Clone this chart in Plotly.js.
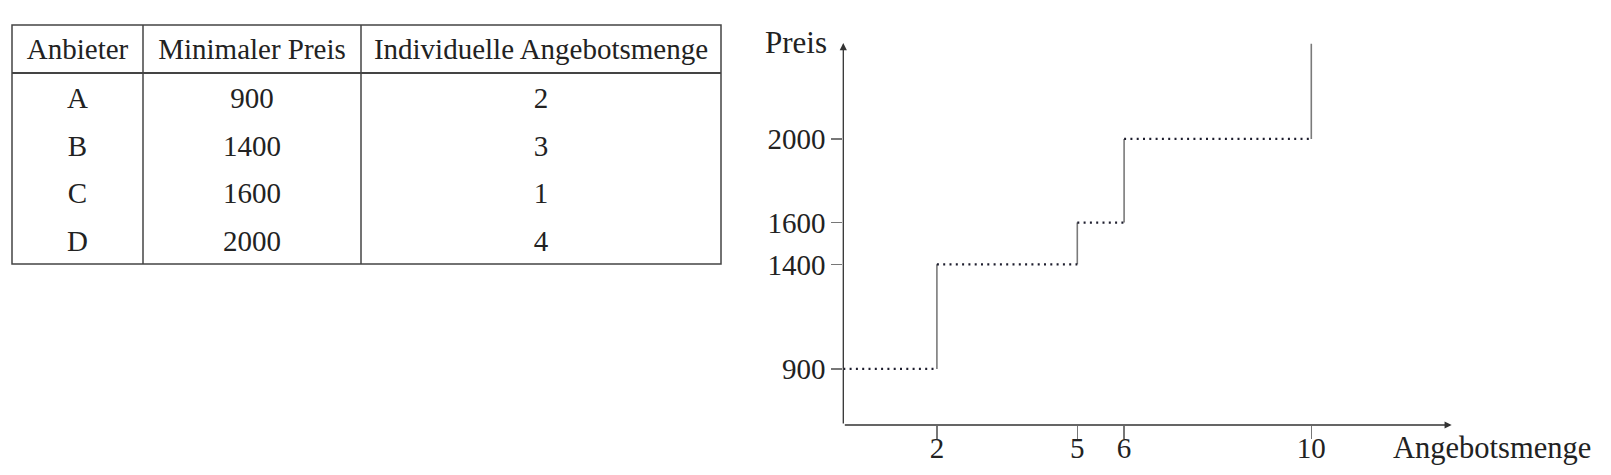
<!DOCTYPE html>
<html><head><meta charset="utf-8">
<script src="https://cdn.plot.ly/plotly-3.0.1.min.js"></script>
<style>html,body{margin:0;padding:0;background:#fff}#chart{width:1611px;height:475px}</style>
</head><body><div id="chart"></div>
<script>
// ---- data ----
const tableHeaders = ['Anbieter', 'Minimaler Preis', 'Individuelle Angebotsmenge'];
const suppliers = ['A', 'B', 'C', 'D'];
const minPrices = [900, 1400, 1600, 2000];
const quantities = [2, 3, 1, 4];
const priceTicks = [900, 1400, 1600, 2000];
const qtyTicks = [2, 5, 6, 10];
const curveTop = 2455;
const xLabel = 'Angebotsmenge';
const yLabel = 'Preis';

// ---- derived ----
const W = 1611, H = 475;
const px = v => v / W, py = v => 1 - v / H;
const cum = []; let s = 0; quantities.forEach(q => { s += q; cum.push(s); });
const hx = [], hy = []; let prev = 0;
minPrices.forEach((p, i) => { hx.push(prev, cum[i], null); hy.push(p, p, null); prev = cum[i]; });
const vx = [], vy = [];
minPrices.forEach((p, i) => {
  const top = i < minPrices.length - 1 ? minPrices[i + 1] : curveTop;
  vx.push(cum[i], cum[i], null); vy.push(p, top, null);
});

const X0 = 0, X1 = 13, Y0 = 631.6, Y1 = 2458.8;
const serif = 'Liberation Serif, Times New Roman, serif';

const traces = [
  { type: 'scatter', mode: 'lines', x: vx, y: vy, line: { color: '#7a7a7a', width: 1.6 }, hoverinfo: 'skip', cliponaxis: false },
  { type: 'scatter', mode: 'lines', x: hx, y: hy, line: { color: '#1e1e2e', width: 2.2, dash: '2px,4.3px' }, hoverinfo: 'skip', cliponaxis: false },
  {
    type: 'table',
    domain: { x: [px(12), px(721)], y: [py(264), py(29.5)] },
    columnwidth: [131, 218, 360],
    header: {
      values: tableHeaders, height: 49, align: 'center',
      font: { family: serif, size: 29, color: '#222' },
      line: { width: 0, color: 'rgba(0,0,0,0)' }, fill: { color: 'rgba(0,0,0,0)' }
    },
    cells: {
      values: [suppliers, minPrices, quantities], height: 47.5, align: 'center',
      font: { family: serif, size: 29, color: '#222' },
      line: { width: 0, color: 'rgba(0,0,0,0)' }, fill: { color: 'rgba(0,0,0,0)' }
    }
  }
];

const lineC = '#444';
const shapes = [
  { type: 'rect', xref: 'paper', yref: 'paper', x0: px(12), x1: px(721), y0: py(264), y1: py(25), line: { color: lineC, width: 1.5 } },
  { type: 'line', xref: 'paper', yref: 'paper', x0: px(12), x1: px(721), y0: py(73), y1: py(73), line: { color: lineC, width: 2.2 } },
  { type: 'line', xref: 'paper', yref: 'paper', x0: px(143), x1: px(143), y0: py(264), y1: py(25), line: { color: lineC, width: 1.5 } },
  { type: 'line', xref: 'paper', yref: 'paper', x0: px(361), x1: px(361), y0: py(264), y1: py(25), line: { color: lineC, width: 1.5 } }
];

const annotations = [
  { x: X1, y: Y0, ax: X0, ay: Y0, xref: 'x', yref: 'y', axref: 'x', ayref: 'y', text: '', showarrow: true, arrowhead: 2, arrowsize: 1.1, arrowwidth: 1.3, arrowcolor: '#333', standoff: 0 },
  { x: X0, y: Y1, ax: X0, ay: Y0, xref: 'x', yref: 'y', axref: 'x', ayref: 'y', text: '', showarrow: true, arrowhead: 2, arrowsize: 1.1, arrowwidth: 1.3, arrowcolor: '#333', standoff: 0 },
  { xref: 'paper', yref: 'paper', x: px(796), y: py(42), text: yLabel, showarrow: false, xanchor: 'center', yanchor: 'middle', font: { family: serif, size: 31, color: '#222' } },
  { xref: 'paper', yref: 'paper', x: px(1492), y: py(448), text: xLabel, showarrow: false, xanchor: 'center', yanchor: 'middle', font: { family: serif, size: 30.5, color: '#222' } }
];

const layout = {
  width: W, height: H, margin: { l: 0, r: 0, t: 0, b: 0 },
  paper_bgcolor: '#fff', plot_bgcolor: '#fff', showlegend: false,
  xaxis: {
    domain: [px(843.3), px(1451.7)], range: [X0, X1], showgrid: false, zeroline: false, showline: false,
    tickmode: 'array', tickvals: qtyTicks, ticktext: qtyTicks.map(String),
    ticks: 'outside', ticklen: 13, tickwidth: 1.3, tickcolor: '#777', ticklabelstandoff: -16,
    tickfont: { family: serif, size: 29, color: '#222' }
  },
  yaxis: {
    domain: [py(425), py(43)], range: [Y0, Y1], showgrid: false, zeroline: false, showline: false,
    tickmode: 'array', tickvals: priceTicks, ticktext: priceTicks.map(String),
    ticks: 'outside', ticklen: 11, tickwidth: 1.3, tickcolor: '#777',
    tickfont: { family: serif, size: 29, color: '#222' }
  },
  shapes: shapes,
  annotations: annotations
};

Plotly.newPlot('chart', traces, layout, { displayModeBar: false, staticPlot: true });
</script>
</body></html>
